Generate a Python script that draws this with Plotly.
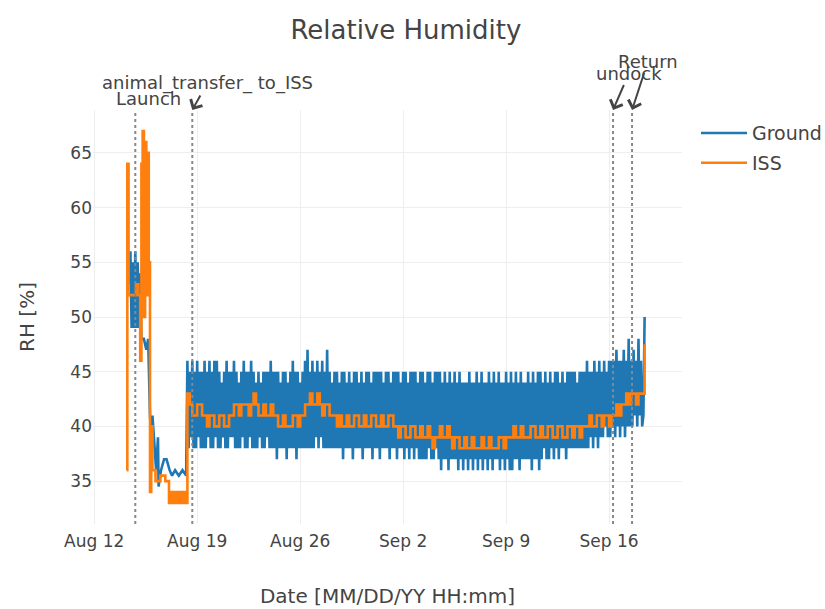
import pandas as pd
import plotly.graph_objects as go

# ---------------- data ----------------
ground_early_time = [
    "2017-08-14 10:00", "2017-08-14 11:00", "2017-08-14 13:00", "2017-08-14 15:00",
    "2017-08-14 17:00", "2017-08-14 19:00", "2017-08-14 21:00", "2017-08-14 23:00",
    "2017-08-15 01:00", "2017-08-15 03:00", "2017-08-15 05:00", "2017-08-15 09:00",
    "2017-08-15 13:00", "2017-08-15 16:00", "2017-08-15 19:00", "2017-08-15 21:00",
    "2017-08-15 23:00", "2017-08-16 02:00", "2017-08-16 05:00", "2017-08-16 08:00",
    "2017-08-16 09:00", "2017-08-16 13:00", "2017-08-16 18:00", "2017-08-16 22:00",
    "2017-08-17 03:00", "2017-08-17 07:00", "2017-08-17 12:00", "2017-08-17 18:00",
    "2017-08-18 00:00", "2017-08-18 06:00",
]
ground_early_rh = [
    53, 56, 49, 55, 49, 56, 49, 55,
    49, 54, 48, 48, 47, 48, 41, 39,
    41, 38, 36, 39, 34.5, 36, 37, 37,
    36, 35.5, 36, 35.5, 36, 35.5,
]

# 2-hourly readings from 2017-08-18 08:00, one row per day
ground_band_start = "2017-08-18 08:00"
ground_band_rh = [
    [46, 38, 45, 39, 46, 38, 45, 38, 46, 39, 45, 38],  # Aug 18
    [45, 38, 46, 38, 45, 39, 46, 38, 45, 38, 46, 39],
    [46, 38, 45, 38, 44, 39, 45, 38, 46, 38, 45, 39],
    [45, 39, 46, 38, 45, 38, 44, 38, 45, 39, 46, 38],
    [45, 38, 45, 39, 46, 38, 45, 38, 44, 38, 45, 39],
    [44, 38, 45, 38, 45, 39, 45, 38, 46, 38, 45, 38],
    [45, 37, 45, 38, 44, 38, 45, 38, 45, 37, 44, 38],
    [45, 38, 46, 38, 45, 37, 45, 38, 44, 38, 45, 38],
    [46, 38, 47, 38, 45, 38, 46, 38, 45, 39, 46, 38],  # Aug 26
    [45, 39, 46, 38, 45, 38, 47, 38, 45, 38, 44, 38],
    [45, 38, 45, 38, 44, 38, 45, 37, 45, 38, 44, 38],
    [45, 38, 44, 37, 45, 38, 45, 38, 44, 38, 45, 37],
    [44, 38, 45, 38, 45, 38, 44, 37, 45, 38, 45, 38],
    [45, 37, 45, 38, 44, 38, 45, 38, 45, 37, 44, 38],  # Aug 31
    [45, 38, 45, 37, 45, 38, 44, 38, 45, 37, 45, 38],  # Sep 1
    [44, 37, 45, 38, 45, 37, 45, 38, 44, 37, 45, 37],
    [45, 37, 44, 37, 45, 38, 45, 37, 44, 37, 45, 38],
    [45, 37, 45, 36, 44, 37, 45, 37, 44, 36, 45, 37],
    [44, 37, 45, 37, 44, 36, 45, 37, 44, 36, 44, 37],
    [44, 36, 45, 37, 44, 36, 44, 37, 45, 36, 44, 37],
    [45, 36, 44, 37, 44, 36, 45, 37, 44, 36, 45, 37],
    [44, 37, 45, 36, 44, 37, 44, 36, 45, 37, 44, 36],
    [45, 36, 44, 37, 45, 37, 44, 36, 45, 37, 44, 37],  # Sep 9
    [44, 37, 45, 37, 44, 36, 45, 37, 44, 37, 45, 36],
    [45, 37, 44, 38, 45, 37, 44, 37, 45, 38, 44, 37],
    [45, 38, 45, 37, 44, 38, 45, 38, 44, 37, 45, 38],
    [45, 38, 45, 38, 45, 38, 44, 38, 45, 38, 45, 38],
    [45, 38, 46, 38, 45, 39, 45, 38, 46, 39, 45, 38],
    [46, 39, 45, 39, 46, 40, 45, 39, 46, 39, 46, 40],
    [46, 39, 47, 40, 46, 39, 46, 40, 47, 39, 46, 40],  # Sep 16
    [48, 40, 46, 40, 47, 41, 46, 40, 48, 41, 46, 40],  # Sep 17
]
ground_tail_time = ["2017-09-18 08:00", "2017-09-18 10:00"]
ground_tail_rh = [41, 50]

iss_early_time = [
    "2017-08-14 05:00", "2017-08-14 06:00", "2017-08-14 08:00", "2017-08-14 14:00",
    "2017-08-14 20:00", "2017-08-15 00:00", "2017-08-15 03:00", "2017-08-15 05:00",
    "2017-08-15 07:00", "2017-08-15 09:00", "2017-08-15 11:00", "2017-08-15 13:00",
    "2017-08-15 15:00", "2017-08-15 17:00", "2017-08-15 19:00", "2017-08-15 21:00",
    "2017-08-15 23:00", "2017-08-16 04:00", "2017-08-16 12:00", "2017-08-16 20:00",
    "2017-08-17 02:00", "2017-08-17 04:00", "2017-08-17 06:00", "2017-08-17 08:00",
    "2017-08-17 12:00", "2017-08-17 16:00", "2017-08-17 20:00", "2017-08-18 00:00",
    "2017-08-18 04:00", "2017-08-18 07:00",
]
iss_early_rh = [
    36, 64, 52, 52, 53, 52, 46, 64,
    67, 50, 66, 52, 65, 55, 34, 40,
    36, 35, 35.5, 35, 33, 34, 33, 34,
    33, 34, 33, 34, 33, 33,
]
# 4-hourly readings from 2017-08-18 08:00, one row per day
iss_band_start = "2017-08-18 08:00"
iss_band_rh = [
    [43, 42, 41, 41, 42, 42],  # Aug 18
    [41, 41, 40, 41, 41, 40],
    [40, 41, 41, 40, 40, 41],
    [41, 42, 42, 41, 42, 42],
    [42, 41, 42, 43, 42, 41],
    [41, 42, 41, 41, 42, 41],
    [41, 40, 40, 41, 40, 40],
    [40, 41, 41, 40, 41, 41],
    [42, 42, 43, 42, 42, 43],  # Aug 26
    [42, 41, 42, 42, 41, 41],
    [41, 40, 41, 40, 40, 41],
    [40, 40, 41, 41, 40, 40],
    [41, 40, 40, 41, 41, 40],
    [40, 41, 40, 40, 41, 41],  # Aug 31
    [40, 40, 39, 40, 40, 39],  # Sep 1
    [39, 40, 40, 39, 39, 40],
    [39, 39, 40, 39, 38, 39],
    [39, 40, 39, 39, 40, 39],
    [38, 39, 39, 38, 38, 39],
    [38, 38, 39, 38, 38, 38],
    [39, 38, 38, 39, 38, 38],
    [38, 39, 39, 38, 39, 39],
    [39, 40, 39, 39, 40, 39],  # Sep 9
    [39, 39, 40, 40, 39, 39],
    [40, 39, 39, 40, 40, 39],
    [39, 40, 40, 39, 39, 40],
    [40, 39, 40, 40, 39, 40],
    [40, 40, 41, 40, 40, 41],
    [41, 40, 41, 41, 40, 41],
    [41, 42, 41, 42, 42, 43],  # Sep 16
    [42, 43, 43, 42, 43, 43],  # Sep 17
]
iss_tail_time = ["2017-09-18 08:00", "2017-09-18 10:00"]
iss_tail_rh = [43, 47.5]

event_names = ["Launch", "animal_transfer_ to_ISS", "undock", "Return"]
event_times = ["2017-08-14 19:00", "2017-08-18 16:00", "2017-09-16 06:30", "2017-09-17 13:30"]
event_ax = [13, 15, 16, 16]
event_ay = [-12, -27, -37, -49]

x_range = ["2017-08-11 22:00", "2017-09-20 23:00"]
y_range = [31.08, 68.92]

# ---------------- assemble ----------------
def flat(rows):
    return [v for r in rows for v in r]

g_band = flat(ground_band_rh)
g_band_t = pd.date_range(ground_band_start, periods=len(g_band), freq="2h")
ground_x = list(pd.to_datetime(ground_early_time)) + list(g_band_t) + list(pd.to_datetime(ground_tail_time))
ground_y = ground_early_rh + g_band + ground_tail_rh

i_band = flat(iss_band_rh)
i_band_t = pd.date_range(iss_band_start, periods=len(i_band), freq="4h")
iss_x = list(pd.to_datetime(iss_early_time)) + list(i_band_t) + list(pd.to_datetime(iss_tail_time))
iss_y = iss_early_rh + i_band + iss_tail_rh

FONT = "DejaVu Sans"
TXT = "#444"

fig = go.Figure()
fig.add_trace(go.Scatter(x=ground_x, y=ground_y, mode="lines", name="Ground",
                         legendgroup="g", line=dict(color="#1f77b4", width=2.6)))
fig.add_trace(go.Scatter(x=iss_x, y=iss_y, mode="lines", name="ISS",
                         legendgroup="i", line=dict(color="#ff7f0e", width=2.6, shape="hv")))

for name, t, ax, ay in zip(event_names, event_times, event_ax, event_ay):
    fig.add_shape(type="line", xref="x", yref="paper", x0=t, x1=t, y0=0, y1=1,
                  line=dict(color="#888", width=2, dash="dot"))
    fig.add_annotation(x=t, y=1, xref="x", yref="paper", text=name,
                       showarrow=True, ax=ax, ay=ay, arrowhead=4, arrowsize=1.3,
                       arrowwidth=2, arrowcolor=TXT,
                       font=dict(family=FONT, size=18, color=TXT))

fig.update_layout(
    width=825, height=609,
    margin=dict(l=93, r=143, t=110, b=85),
    paper_bgcolor="white", plot_bgcolor="white",
    font=dict(family=FONT, size=17, color=TXT),
    title=dict(text="Relative Humidity", x=0.492, xanchor="center",
               y=1 - 30 / 609, yanchor="middle", yref="container",
               font=dict(family=FONT, size=26, color=TXT)),
    legend=dict(xref="container", x=696 / 825, xanchor="left",
                y=0.99, yanchor="top", tracegroupgap=2, itemwidth=46,
                font=dict(family=FONT, size=19, color=TXT)),
    showlegend=True,
)
fig.update_xaxes(range=x_range, type="date", tickformat="%b %-d", dtick=7 * 86400000,
                 tick0="2017-08-12", showgrid=True, gridcolor="#eee", zeroline=False,
                 showline=False, automargin=False,
                 ticks="outside", ticklen=2, tickcolor="rgba(0,0,0,0)",
                 tickfont=dict(size=17),
                 title=dict(text="Date [MM/DD/YY HH:mm]", font=dict(size=20), standoff=38))
fig.update_yaxes(range=y_range, dtick=5, tick0=35, showgrid=True, gridcolor="#eee",
                 zeroline=False, showline=False, automargin=False,
                 tickfont=dict(size=17),
                 title=dict(text="RH [%]", font=dict(size=20), standoff=30))

fig.write_html("out.html")
